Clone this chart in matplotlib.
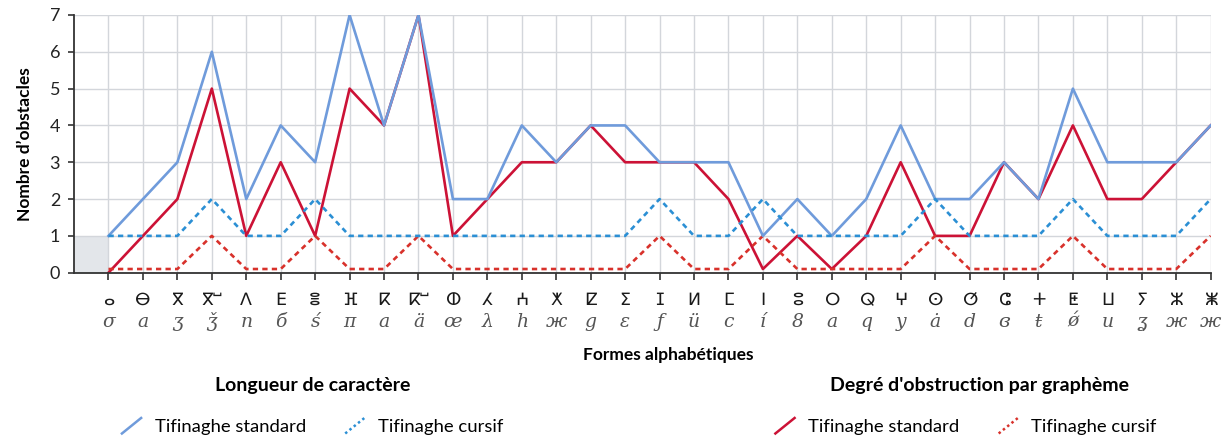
import matplotlib
matplotlib.use('Agg')
import matplotlib.pyplot as plt
from matplotlib.lines import Line2D
from matplotlib.legend_handler import HandlerLine2D

plt.rcParams['font.family'] = ['Lato', 'DejaVu Sans']

# formes alphabétiques : tifinaghe standard et forme cursive
tifinaghe = ['ⴰ', 'ⴱ', 'ⴳ', 'ⴳⵯ', 'ⴷ', 'ⴹ', 'ⴻ', 'ⴼ', 'ⴽ', 'ⴽⵯ', 'ⵀ', 'ⵃ', 'ⵄ', 'ⵅ', 'ⵇ', 'ⵉ', 'ⵊ',
             'ⵍ', 'ⵎ', 'ⵏ', 'ⵓ', 'ⵔ', 'ⵕ', 'ⵖ', 'ⵙ', 'ⵚ', 'ⵛ', 'ⵜ', 'ⵟ', 'ⵡ', 'ⵢ', 'ⵣ', 'ⵥ']
cursif = ['σ', 'a', 'ʒ', 'ǯ', 'n', 'б', 'ś', 'π', 'a', 'ä', 'œ', 'λ', 'h', 'ж', 'g', 'ε', 'ƒ',
          'ü', 'c', 'í', '8', 'a', 'q', 'y', 'ȧ', 'd', 'ɞ', 'ŧ', 'ǿ', 'u', 'ʓ', 'ж', 'ж']

# longueur de caractère
long_standard = [1, 2, 3, 6, 2, 4, 3, 7, 4, 7, 2, 2, 4, 3, 4, 4, 3, 3, 3, 1, 2, 1, 2, 4, 2, 2, 3, 2, 5, 3, 3, 3, 4]
long_cursif = [1, 1, 1, 2, 1, 1, 2, 1, 1, 1, 1, 1, 1, 1, 1, 1, 2, 1, 1, 2, 1, 1, 1, 1, 2, 1, 1, 1, 2, 1, 1, 1, 2]

# degré d'obstruction par graphème
obst_standard = [0, 1, 2, 5, 1, 3, 1, 5, 4, 7, 1, 2, 3, 3, 4, 3, 3, 3, 2, 0.1, 1, 0.1, 1, 3, 1, 1, 3, 2, 4, 2, 2, 3, 4]
obst_cursif = [0.1, 0.1, 0.1, 1, 0.1, 0.1, 1, 0.1, 0.1, 1, 0.1, 0.1, 0.1, 0.1, 0.1, 0.1, 1, 0.1, 0.1, 1, 0.1, 0.1,
               0.1, 0.1, 1, 0.1, 0.1, 0.1, 1, 0.1, 0.1, 0.1, 1]

x = list(range(1, len(tifinaghe) + 1))

bleu = '#6f9bdb'
bleu_pt = '#2b8fd4'
rouge = '#cc1236'
rouge_pt = '#d8312b'
pointille = (0, (2, 1.6))


class HandlerDiag(HandlerLine2D):
    # trait de légende en diagonale
    def create_artists(self, legend, orig_handle, xdescent, ydescent, width, height, fontsize, trans):
        line = Line2D([-xdescent + 0.1 * width, -xdescent + 0.9 * width],
                      [-ydescent - 0.1 * height, -ydescent + 1.1 * height])
        self.update_prop(line, orig_handle, legend)
        line.set_transform(trans)
        return [line]


fig = plt.figure(figsize=(12.26, 4.45), dpi=100)
ax = fig.add_axes([0.0604, 0.3872, 0.9271, 0.5791])

ax.fill_between([0, 1], 0, 1, color='#e3e6ea', lw=0, zorder=0)

ax.plot(x, obst_standard, color=rouge, lw=1.9, zorder=3)
ax.plot(x, obst_cursif, color=rouge_pt, lw=1.9, ls=pointille, zorder=3)
ax.plot(x, long_standard, color=bleu, lw=1.9, zorder=4)
ax.plot(x, long_cursif, color=bleu_pt, lw=1.9, ls=pointille, zorder=4)

ax.set_xlim(0, 33)
ax.set_ylim(0, 7)
ax.set_xticks(x)
ax.set_xticklabels([])
ax.set_yticks(range(8))
ax.grid(True, color='#d3d6db', lw=1, zorder=1)
ax.set_axisbelow(True)
for s in ['top', 'right']:
    ax.spines[s].set_visible(False)
for s in ['left', 'bottom']:
    ax.spines[s].set_color('#333333')
    ax.spines[s].set_linewidth(1.3)
    ax.spines[s].set_zorder(5)
ax.tick_params(axis='x', length=5, width=1.2, color='#333333')
ax.tick_params(axis='y', length=4, width=1.2, color='#333333', labelsize=13, pad=6, labelcolor='#222222')
ax.set_ylabel("Nombre d’obstacles", fontsize=12.5, fontweight='bold', labelpad=12)

# deux lignes d'étiquettes sous chaque position
tr = ax.get_xaxis_transform()
for xi, t, c in zip(x, tifinaghe, cursif):
    ax.text(xi, -0.106, t, transform=tr, ha='center', va='center', fontsize=12.5,
            family=['DejaVu Sans'], color='#1a1a1a')
    ax.text(xi, -0.19, c, transform=tr, ha='center', va='center', fontsize=13.5,
            family=['DejaVu Serif'], style='italic', color='#555555')

fig.text(0.545, 0.202, 'Formes alphabétiques', ha='center', va='center', fontsize=12.5, fontweight='bold')
fig.text(0.255, 0.133, 'Longueur de caractère', ha='center', va='center', fontsize=14, fontweight='bold')
fig.text(0.799, 0.133, "Degré d'obstruction par graphème", ha='center', va='center', fontsize=14,
         fontweight='bold')

h1 = [Line2D([], [], color=bleu, lw=1.8), Line2D([], [], color=bleu_pt, lw=1.8, ls=(0, (1, 1.2)))]
h2 = [Line2D([], [], color=rouge, lw=1.8), Line2D([], [], color=rouge_pt, lw=1.8, ls=(0, (1, 1.2)))]
opts = dict(ncol=2, frameon=False, fontsize=13.3, handlelength=1.3, handletextpad=0.6,
            columnspacing=2.0, handler_map={Line2D: HandlerDiag()})
fig.legend(h1, ['Tifinaghe standard', 'Tifinaghe cursif'], loc='center',
           bbox_to_anchor=(0.254, 0.04), **opts)
fig.legend(h2, ['Tifinaghe standard', 'Tifinaghe cursif'], loc='center',
           bbox_to_anchor=(0.787, 0.04), **opts)

fig.savefig('out.png')
